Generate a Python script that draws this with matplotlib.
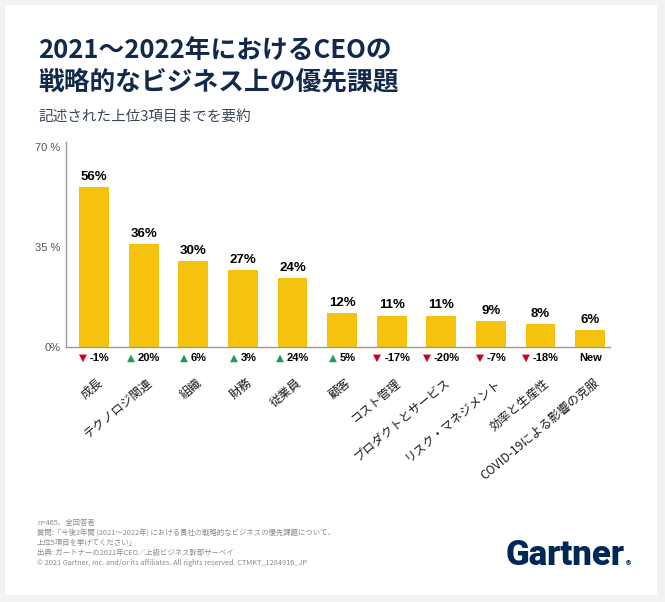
import matplotlib
matplotlib.use("Agg")
import matplotlib.pyplot as plt
from matplotlib.patches import Rectangle
from matplotlib.offsetbox import TextArea, HPacker, AnnotationBbox

plt.rcParams['font.family'] = ['Noto Sans CJK JP', 'DejaVu Sans']

categories = ['成長', 'テクノロジ関連', '組織', '財務', '従業員', '顧客', 'コスト管理',
              'プロダクトとサービス', 'リスク・マネジメント', '効率と生産性', 'COVID-19による影響の克服']
shares = [56, 36, 30, 27, 24, 12, 11, 11, 9, 8, 6]
changes = ['-1%', '20%', '6%', '3%', '24%', '5%', '-17%', '-20%', '-7%', '-18%', 'New']
direction = ['down', 'up', 'up', 'up', 'up', 'up', 'down', 'down', 'down', 'down', None]
y_ticks = [0, 35, 70]
y_ticklabels = ['0%', '35 %', '70 %']

W, H = 665, 602
navy = '#13294b'
yellow = '#f5c30e'
latin = ['Liberation Sans', 'DejaVu Sans']

fig = plt.figure(figsize=(W / 100, H / 100), dpi=100)
fig.patch.set_facecolor('#f1f2f2')
fig.patches.append(Rectangle((5 / W, 1 - 595 / H), 652 / W, 590 / H,
                             transform=fig.transFigure, facecolor='white',
                             edgecolor='none', zorder=-1))


def px(x, y):
    return x / W, 1 - y / H


fig.text(*px(38, 51), '2021〜2022年におけるCEOの', fontsize=18.5, fontweight='bold',
         color=navy, va='center')
fig.text(*px(38, 82), '戦略的なビジネス上の優先課題', fontsize=18.5, fontweight='bold',
         color=navy, va='center')
fig.text(*px(38, 117), '記述された上位3項目までを要約', fontsize=10.5, color='#3a4558',
         va='center')

ax = fig.add_axes([66 / W, 1 - 347 / H, 544 / W, 205 / H])
ax.set_facecolor('none')
ax.bar(range(len(shares)), shares, width=0.6, color=yellow, zorder=2)
ax.set_xlim(-0.565, 10.4)
ax.set_ylim(0, 71.75)
ax.set_yticks(y_ticks)
ax.set_yticklabels(y_ticklabels, fontsize=8, color='#555555', family=latin)
ax.tick_params(axis='y', length=0, pad=4)
ax.set_xticks([])
for s in ['top', 'right']:
    ax.spines[s].set_visible(False)
for s in ['left', 'bottom']:
    ax.spines[s].set_color('#9a9a9a')
    ax.spines[s].set_linewidth(1)

for i, v in enumerate(shares):
    ax.annotate(f'{v}%', (i, v), xytext=(0, 3), textcoords='offset points',
                ha='center', va='bottom', fontsize=9.5, fontweight='bold',
                family=latin, color='black')

    parts = []
    if direction[i] == 'down':
        parts.append(TextArea('▼', textprops=dict(color='#d0021b', fontsize=7.5,
                                                  family='DejaVu Sans')))
    elif direction[i] == 'up':
        parts.append(TextArea('▲', textprops=dict(color='#1f9a5c', fontsize=7.5,
                                                  family='DejaVu Sans')))
    parts.append(TextArea(changes[i], textprops=dict(color='black', fontsize=8,
                                                     fontweight='bold', family=latin)))
    box = HPacker(children=parts, align='center', pad=0, sep=2)
    ab = AnnotationBbox(box, (i, 0), xybox=(0, -8), xycoords='data',
                        boxcoords='offset points', frameon=False,
                        box_alignment=(0.5, 0.5), annotation_clip=False)
    ax.add_artist(ab)

    ax.annotate(categories[i], (i, 0), xytext=(2, -21), textcoords='offset points',
                ha='right', va='top', rotation=40, rotation_mode='anchor',
                fontsize=8.7, color='#1a1a1a', annotation_clip=False)

notes = ['n=465、全回答者',
         '質問:「今後2年間 (2021～2022年) における貴社の戦略的なビジネスの優先課題について、',
         '上位5項目を挙げてください」',
         '出典: ガートナーの2021年CEO／上級ビジネス幹部サーベイ',
         '© 2021 Gartner, Inc. and/or its affiliates. All rights reserved. CTMKT_1284916_JP']
note_y = [523, 534, 543, 553, 563]
for t, y in zip(notes, note_y):
    fig.text(*px(37, y), t, fontsize=5.3, color='#8a8a8a', va='center')

fig.text(*px(506, 565), 'Gartner', fontsize=25, fontweight='heavy', color='#002856',
         family=['Roboto', 'DejaVu Sans'], va='baseline')
fig.text(*px(624.5, 565), '®', fontsize=5, fontweight='bold', color='#002856',
         family=['DejaVu Sans'], va='baseline')

fig.savefig('out.png', dpi=100, facecolor=fig.get_facecolor())
